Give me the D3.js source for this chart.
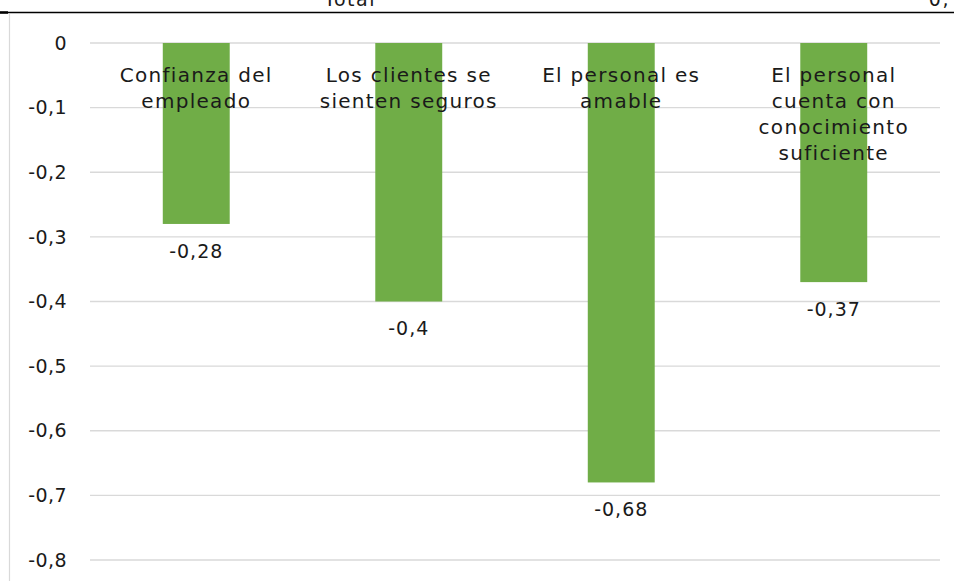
<!DOCTYPE html>
<html><head><meta charset="utf-8">
<script src="https://cdn.jsdelivr.net/npm/d3@7"></script>
<style>html,body{margin:0;padding:0;background:#fff;overflow:hidden}</style>
</head><body>
<svg id="c" width="954" height="581"></svg>
<script>
const categories = [
  ["Confianza del", "empleado"],
  ["Los clientes se", "sienten seguros"],
  ["El personal es", "amable"],
  ["El personal", "cuenta con", "conocimiento", "suficiente"]
];
const values = [-0.28, -0.4, -0.68, -0.37];
const valueLabels = ["-0,28", "-0,4", "-0,68", "-0,37"];
const yTicks = [0, -0.1, -0.2, -0.3, -0.4, -0.5, -0.6, -0.7, -0.8];
const yTickLabels = ["0", "-0,1", "-0,2", "-0,3", "-0,4", "-0,5", "-0,6", "-0,7", "-0,8"];

const font = "'DejaVu Sans', sans-serif";
const svg = d3.select("#c");
const x = d3.scaleBand().domain(d3.range(values.length)).range([90, 940]).paddingInner(0.685).paddingOuter(0.3425);
const y = d3.scaleLinear().domain([-0.8, 0]).range([560, 43]);

// cut-off header from the surrounding document
svg.append("text").attr("x", 350).attr("y", 6).attr("text-anchor", "middle")
  .attr("font-family", font).attr("font-size", 19).attr("letter-spacing", 1.5).attr("fill", "#1a1a1a").text("Total");
svg.append("text").attr("x", 950).attr("y", 6).attr("text-anchor", "end")
  .attr("font-family", font).attr("font-size", 19).attr("letter-spacing", 1.5).attr("fill", "#1a1a1a").text("0,");
svg.append("line").attr("x1", 0).attr("x2", 954).attr("y1", 12.5).attr("y2", 12.5)
  .attr("stroke", "#000").attr("stroke-width", 1.3);
svg.append("line").attr("x1", 0).attr("x2", 8).attr("y1", 12.5).attr("y2", 12.5)
  .attr("stroke", "#000").attr("stroke-width", 2.5);
svg.append("line").attr("x1", 9.5).attr("x2", 9.5).attr("y1", 14).attr("y2", 581)
  .attr("stroke", "#d9d9d9").attr("stroke-width", 1.2);

// gridlines
svg.append("g").selectAll("line").data(yTicks).join("line")
  .attr("x1", 90).attr("x2", 940)
  .attr("y1", d => y(d)).attr("y2", d => y(d))
  .attr("stroke", "#d9d9d9").attr("stroke-width", 1.3);

// y axis labels
svg.append("g").selectAll("text").data(yTicks).join("text")
  .attr("x", 67).attr("y", d => y(d)).attr("dy", "0.35em")
  .attr("text-anchor", "end").attr("font-family", font).attr("font-size", 19)
  .attr("letter-spacing", 0.4)
  .attr("fill", "#1a1a1a").text((d, i) => yTickLabels[i]);

// bars
svg.append("g").selectAll("rect").data(values).join("rect")
  .attr("x", (d, i) => x(i)).attr("width", x.bandwidth())
  .attr("y", y(0)).attr("height", d => y(d) - y(0))
  .attr("fill", "#70ad47");

// value labels
svg.append("g").selectAll("text").data(values).join("text")
  .attr("x", (d, i) => x(i) + x.bandwidth() / 2).attr("y", d => y(d) + 27).attr("dy", "0.35em")
  .attr("text-anchor", "middle").attr("font-family", font).attr("font-size", 19)
  .attr("letter-spacing", 1)
  .attr("fill", "#1a1a1a").text((d, i) => valueLabels[i]);

// category labels
const cg = svg.append("g");
categories.forEach((lines, i) => {
  const t = cg.append("text").attr("text-anchor", "middle").attr("font-family", font)
    .attr("font-size", 20).attr("letter-spacing", 1.3).attr("fill", "#1a1a1a");
  lines.forEach((ln, j) => {
    t.append("tspan").attr("x", x(i) + x.bandwidth() / 2).attr("y", 75 + j * 26)
      .attr("dy", "0.35em").text(ln);
  });
});
</script>
</body></html>
